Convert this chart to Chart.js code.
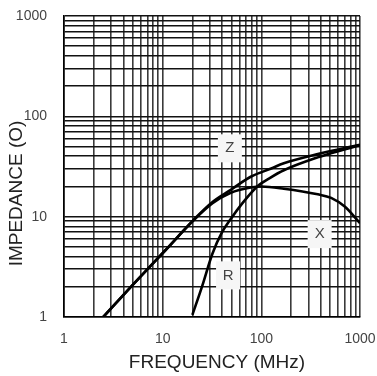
<!DOCTYPE html>
<html><head><meta charset="utf-8">
<script src="https://cdn.jsdelivr.net/npm/chart.js@4/dist/chart.umd.min.js"></script>
<style>html,body{margin:0;padding:0;background:#fff;}</style>
</head><body>
<canvas id="c" width="377" height="376"></canvas>
<script>
// ---- data ----
const xTickLabels = [1, 10, 100, 1000];
const yTickLabels = [1, 10, 100, 1000];
const zFreq   = [2.5, 5, 10.6, 20.6, 32, 49, 78, 124, 169, 373, 1000];
const zValues = [1, 2.1, 4.6, 9.3, 14, 18.5, 25, 30, 34, 42, 52];
const xFreq   = [2.5, 5, 10.6, 20.6, 32, 49, 78, 100, 169, 373, 510, 700, 1000];
const xValues = [1, 2.1, 4.6, 9.2, 13.6, 17.3, 19.5, 20, 19, 16.7, 15.4, 12.6, 8.6];
const rFreq   = [20, 25, 32, 40, 49, 65, 91, 124, 169, 373, 600, 1000];
const rValues = [1.05, 2.0, 4.3, 7.0, 9.5, 13.8, 20, 24.5, 29, 39, 45, 51.5];
const curveNames = ['Z', 'X', 'R'];
const labelFreq  = [48, 390, 46];
const labelValue = [48, 6.7, 2.6];
const xTitle = 'FREQUENCY (MHz)';
const yTitle = 'IMPEDANCE (O)';

function pts(f, v) { return f.map((x, i) => ({x: x, y: v[i]})); }
function gridValues(labels) {
  const out = [];
  for (let d = 0; d < labels.length - 1; d++) {
    for (let k = 1; k <= 9; k++) out.push(labels[d] * k);
  }
  out.push(labels[labels.length - 1]);
  return out;
}

const lineStyle = {borderColor: '#000', borderWidth: 2.6, pointRadius: 0, showLine: true, cubicInterpolationMode: 'monotone', fill: false};

const labelsPlugin = {
  id: 'curveLabels',
  beforeDatasetsDraw(chart) {
    const ctx = chart.ctx, xs = chart.scales.x, ys = chart.scales.y;
    ctx.save();
    ctx.font = '15px "Liberation Sans", Arial, sans-serif';
    ctx.textAlign = 'center'; ctx.textBaseline = 'middle';
    curveNames.forEach((n, i) => {
      const px = xs.getPixelForValue(labelFreq[i]);
      const py = ys.getPixelForValue(labelValue[i]);
      ctx.fillStyle = '#f6f6f6';
      ctx.fillRect(px - 12, py - 14, 24, 28);
      ctx.fillStyle = '#444';
      ctx.fillText(n, px, py);
    });
    ctx.restore();
  }
};

const titlePlugin = {
  id: 'axisTitles',
  afterDraw(chart) {
    const ctx = chart.ctx, a = chart.chartArea;
    ctx.save();
    ctx.fillStyle = '#222';
    ctx.font = '19px "Liberation Sans", Arial, sans-serif';
    ctx.textAlign = 'center'; ctx.textBaseline = 'middle';
    ctx.fillText(xTitle, (a.left + a.right) / 2 + 5, a.bottom + 46);
    ctx.translate(17, (a.top + a.bottom) / 2 + 27);
    ctx.rotate(-Math.PI / 2);
    ctx.fillText(yTitle, 0, 0);
    ctx.restore();
  }
};

new Chart(document.getElementById('c'), {
  type: 'scatter',
  data: {
    datasets: [
      Object.assign({label: 'Z', data: pts(zFreq, zValues)}, lineStyle),
      Object.assign({label: 'X', data: pts(xFreq, xValues)}, lineStyle),
      Object.assign({label: 'R', data: pts(rFreq, rValues)}, lineStyle)
    ]
  },
  options: {
    responsive: false,
    animation: false,
    devicePixelRatio: 1,
    layout: {padding: {left: 0, right: 17, top: 16, bottom: 0}},
    plugins: {legend: {display: false}, tooltip: {enabled: false}},
    scales: {
      x: {
        type: 'logarithmic', min: 1, max: 1000,
        afterBuildTicks(s) { s.ticks = gridValues(xTickLabels).map(v => ({value: v})); },
        afterFit(s) { s.height = 59; s.paddingLeft = 0; s.paddingRight = 0; },
        ticks: {
          autoSkip: false, maxRotation: 0, padding: 14,
          color: '#444', font: {family: '"Liberation Sans", Arial, sans-serif', size: 14},
          callback: v => xTickLabels.includes(v) ? String(v) : ''
        },
        grid: {color: '#3a3a3a', lineWidth: 1.6, drawTicks: false},
        border: {display: true, color: '#000', width: 1.6}
      },
      y: {
        type: 'logarithmic', min: 1, max: 1000,
        afterBuildTicks(s) { s.ticks = gridValues(yTickLabels).map(v => ({value: v})); },
        afterFit(s) { s.width = 64; s.paddingTop = 0; s.paddingBottom = 0; },
        ticks: {
          autoSkip: false, padding: 17,
          color: '#444', font: {family: '"Liberation Sans", Arial, sans-serif', size: 14},
          callback: v => yTickLabels.includes(v) ? String(v) : ''
        },
        grid: {color: '#111', lineWidth: 1.6, drawTicks: false},
        border: {display: true, color: '#000', width: 1.6}
      }
    }
  },
  plugins: [labelsPlugin, titlePlugin]
});
</script>
</body></html>
